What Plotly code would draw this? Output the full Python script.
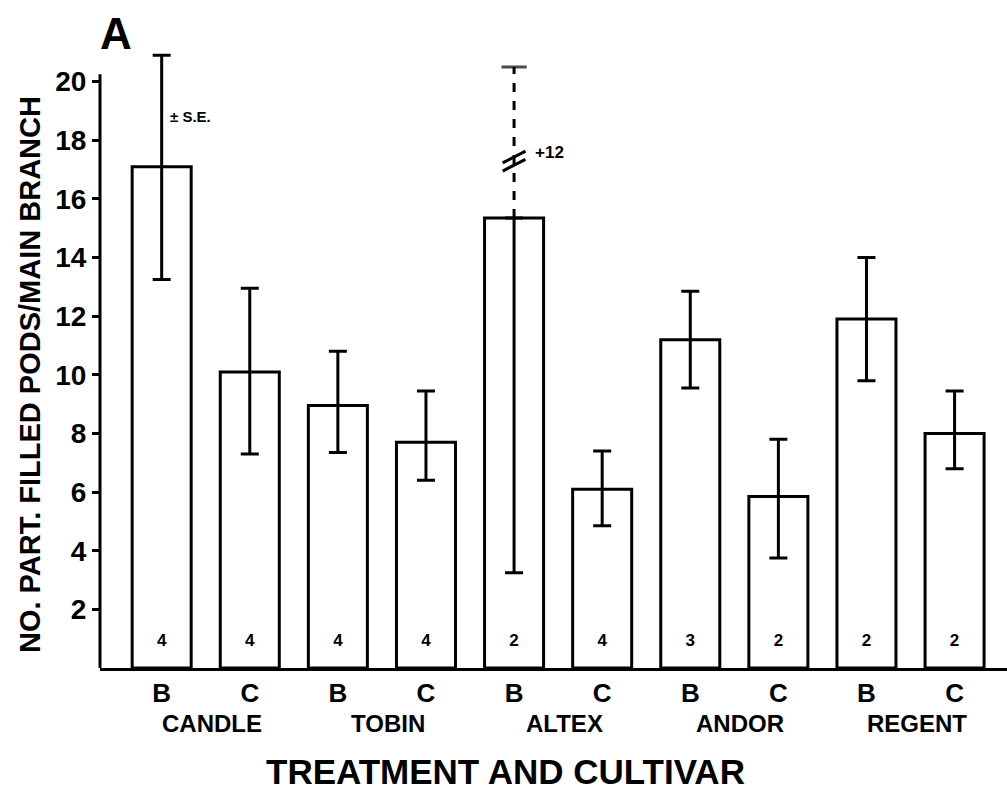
import plotly.graph_objects as go

# ---- data ----
treatments = ["B", "C", "B", "C", "B", "C", "B", "C", "B", "C"]
cultivars = ["CANDLE", "TOBIN", "ALTEX", "ANDOR", "REGENT"]
means = [17.1, 10.1, 8.95, 7.7, 15.35, 6.1, 11.2, 5.85, 11.9, 8.0]
upper = [20.9, 12.95, 10.8, 9.45, 20.5, 7.4, 12.85, 7.8, 14.0, 9.45]
lower = [13.25, 7.3, 7.35, 6.4, 3.25, 4.85, 9.55, 3.75, 9.8, 6.8]
n_plants = [4, 4, 4, 4, 2, 4, 3, 2, 2, 2]
truncated = [False, False, False, False, True, False, False, False, False, False]
y_ticks = [2, 4, 6, 8, 10, 12, 14, 16, 18, 20]

FONT = "Liberation Sans"
x = list(range(len(means)))
plus = [0 if t else u - m for u, m, t in zip(upper, means, truncated)]
minus = [m - l for m, l in zip(means, lower)]


def bold(s):
    return f"<b>{s}</b>"


fig = go.Figure()
fig.add_trace(go.Bar(
    x=x, y=means, width=0.67,
    marker=dict(color="white", line=dict(color="black", width=3)),
    error_y=dict(type="data", symmetric=False, array=plus, arrayminus=minus,
                 color="black", thickness=3, width=9),
    showlegend=False,
))

# dashed upper error bar for truncated value(s)
for i, t in enumerate(truncated):
    if t:
        fig.add_trace(go.Scatter(
            x=[i, i], y=[means[i], upper[i]], mode="lines+markers",
            line=dict(color="black", width=3, dash="dash"),
            marker=dict(symbol="line-ew", size=[0, 18],
                        line=dict(color="black", width=3)),
            showlegend=False, hoverinfo="skip"))
        # break marks
        for dy in (0.0, 0.28):
            fig.add_shape(type="line", xref="x", yref="y",
                          x0=i - 0.13, x1=i + 0.13,
                          y0=16.95 + dy, y1=17.35 + dy,
                          line=dict(color="black", width=3))
        fig.add_annotation(x=i + 0.22, y=17.6, xref="x", yref="y",
                           text=bold("+12"), showarrow=False, xanchor="left",
                           font=dict(family=FONT, size=17, color="black"))

# sample sizes inside bars
fig.add_trace(go.Scatter(
    x=x, y=[0.9] * len(x), mode="text",
    text=[bold(str(v)) for v in n_plants],
    textfont=dict(family=FONT, size=17, color="black"),
    showlegend=False, hoverinfo="skip"))

# y axis line (ends just above 20)
fig.add_shape(type="line", xref="paper", yref="y", x0=0, x1=0, y0=0, y1=20.25,
              line=dict(color="black", width=3))

# cultivar labels
for k, c in enumerate(cultivars):
    fig.add_annotation(x=2 * k + 0.57, y=-(723 - 668) / 645, xref="x", yref="paper",
                       text=bold(c), showarrow=False, yanchor="middle",
                       font=dict(family=FONT, size=24, color="black"))

fig.add_annotation(x=(505 - 100) / 907, y=-(771 - 668) / 645, xref="paper",
                   yref="paper", text=bold("TREATMENT AND CULTIVAR"),
                   showarrow=False, yanchor="middle",
                   font=dict(family=FONT, size=35, color="black"))

fig.add_annotation(x=-70 / 907, y=(668 - 375) / 645, xref="paper", yref="paper",
                   text=bold("NO. PART. FILLED PODS/MAIN BRANCH"), showarrow=False,
                   textangle=-90, xanchor="center", yanchor="middle",
                   font=dict(family=FONT, size=29, color="black"))

fig.add_annotation(x=0.07, y=18.8, xref="x", yref="y", text=bold("± S.E."),
                   showarrow=False, xanchor="left",
                   font=dict(family=FONT, size=15, color="black"))

fig.add_annotation(x=-2 / 907, y=(668 - 33) / 645, xref="paper", yref="paper",
                   text=bold("A"), showarrow=False, xanchor="left", yanchor="middle",
                   font=dict(family=FONT, size=44, color="black"))

fig.update_layout(
    width=1007, height=791,
    margin=dict(l=100, r=0, t=23, b=123),
    paper_bgcolor="white", plot_bgcolor="white",
    font=dict(family=FONT, color="black"),
    bargap=0.33,
    xaxis=dict(range=[-0.70, 9.595], tickvals=x,
               ticktext=[bold(t) for t in treatments],
               showline=True, linecolor="black", linewidth=3,
               showgrid=False, zeroline=False, ticks="",
               tickfont=dict(family=FONT, size=26, color="black")),
    yaxis=dict(range=[0, 22], tickvals=y_ticks,
               ticktext=[bold(v) for v in y_ticks], showline=False,
               showgrid=False, zeroline=False, ticks="outside",
               ticklen=7, tickwidth=3, tickcolor="black",
               tickfont=dict(family=FONT, size=28, color="black")),
)

fig.write_html("out.html")
